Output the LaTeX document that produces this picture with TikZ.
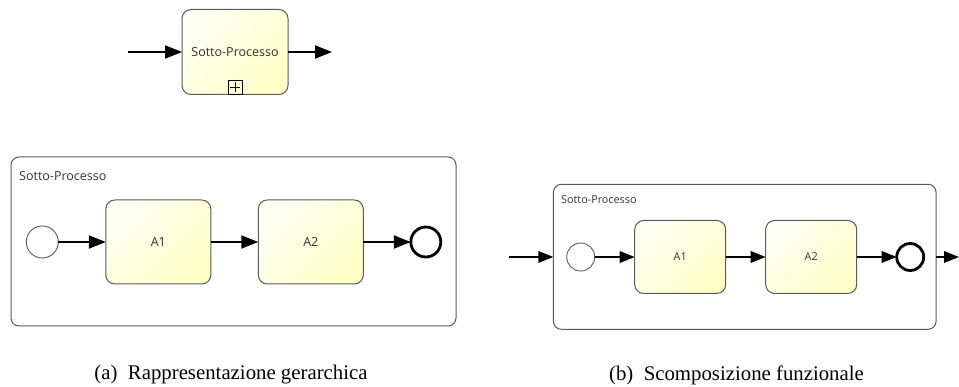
\documentclass[tikz,border=0pt]{standalone}
\usepackage{fontspec}
\setsansfont{Open Sans}
\newfontfamily\capfont{Liberation Serif}
\usetikzlibrary{arrows.meta, positioning}

\definecolor{taskTop}{HTML}{FFFFF4}
\definecolor{taskBot}{HTML}{FFFFC8}
\definecolor{edgeGrey}{HTML}{5A5A5A}
\definecolor{labelGrey}{HTML}{333333}

\begin{document}
\begin{tikzpicture}[
  x=1pt, y=-1pt,
  big/.style={font=\sffamily\fontsize{12.5}{14}\selectfont, text=labelGrey},
  small/.style={font=\sffamily\fontsize{10.8}{12}\selectfont, text=labelGrey},
  task/.style={rectangle, rounded corners=9pt, draw=edgeGrey, line width=1pt,
    top color=taskTop, bottom color=taskBot, shading angle=45, outer sep=0pt},
  startev/.style={circle, draw=edgeGrey, line width=0.9pt, fill=white, outer sep=0pt},
  endev/.style={circle, draw=black, line width=2.8pt, fill=white, outer sep=0pt},
  container/.style={rectangle, rounded corners=8pt, draw=edgeGrey, line width=1pt, outer sep=0pt},
  flow/.style={line width=2pt, -{Triangle[length=17pt, width=13pt]}},
  flowb/.style={line width=1.8pt, -{Triangle[length=15pt, width=11.5pt]}},
  plusbox/.style={rectangle, draw=black, line width=0.8pt, minimum size=14pt, inner sep=0pt,
    path picture={
      \draw[line width=0.8pt] ([yshift=-2pt]path picture bounding box.north) -- ([yshift=2pt]path picture bounding box.south);
      \draw[line width=0.8pt] ([xshift=2pt]path picture bounding box.west) -- ([xshift=-2pt]path picture bounding box.east);
    }}
]
  \useasboundingbox (0,0) rectangle (959,387);

  % collapsed sub-process
  \node[task, big, minimum width=106pt, minimum height=85pt] (sp) at (235,52) {Sotto-Processo};
  \node[plusbox, anchor=south] (plus) at (sp.south) {};
  \coordinate (in0) at (128,52);
  \coordinate (out0) at (332,52);
  \draw[flow] (in0) -- (sp);
  \draw[flow] (sp) -- (out0);

  % (a) expanded sub-process
  \node[container, minimum width=445pt, minimum height=169pt] (spa) at (233.5,241.5) {};
  \node[big, anchor=west, inner sep=0pt] (spalabel) at (19,176) {Sotto-Processo};
  \begin{scope}[node distance=47.5pt]
    \node[startev, minimum size=32pt] (s1) at (42.3,242) {};
    \node[task, big, minimum width=105pt, minimum height=84pt, right=of s1] (a1) {A1};
    \node[task, big, minimum width=105pt, minimum height=84pt, right=of a1] (a2) {A2};
    \node[endev, minimum size=30pt, right=of a2] (e1) {};
  \end{scope}
  \draw[flow] (s1) -- (a1);
  \draw[flow] (a1) -- (a2);
  \draw[flow] (a2) -- (e1);

  % (b) functional decomposition
  \node[container, minimum width=382.7pt, minimum height=145pt] (spb) at (744.7,256.8) {};
  \node[small, anchor=west, inner sep=0pt] (spblabel) at (561,200) {Sotto-Processo};
  \begin{scope}[node distance=40pt]
    \node[startev, minimum size=28pt] (s2) at (580.7,257) {};
    \node[task, small, minimum width=91pt, minimum height=73pt, right=of s2] (b1) {A1};
    \node[task, small, minimum width=91pt, minimum height=73pt, right=of b1] (b2) {A2};
    \node[endev, minimum size=27pt, right=of b2] (e2) {};
  \end{scope}
  \coordinate (in1) at (509,257);
  \coordinate (out1) at (959,257);
  \draw[flowb] (in1) -- (spb);
  \draw[flowb] (s2) -- (b1);
  \draw[flowb] (b1) -- (b2);
  \draw[flowb] (b2) -- (e2);
  \draw[flowb] (spb) -- (out1);

  % captions
  \node[font=\capfont\fontsize{20.8}{24}\selectfont] (capa) at (231,375) {(a)\ \ Rappresentazione gerarchica};
  \node[font=\capfont\fontsize{20.8}{24}\selectfont] (capb) at (736.5,375) {(b)\ \ Scomposizione funzionale};
\end{tikzpicture}
\end{document}
